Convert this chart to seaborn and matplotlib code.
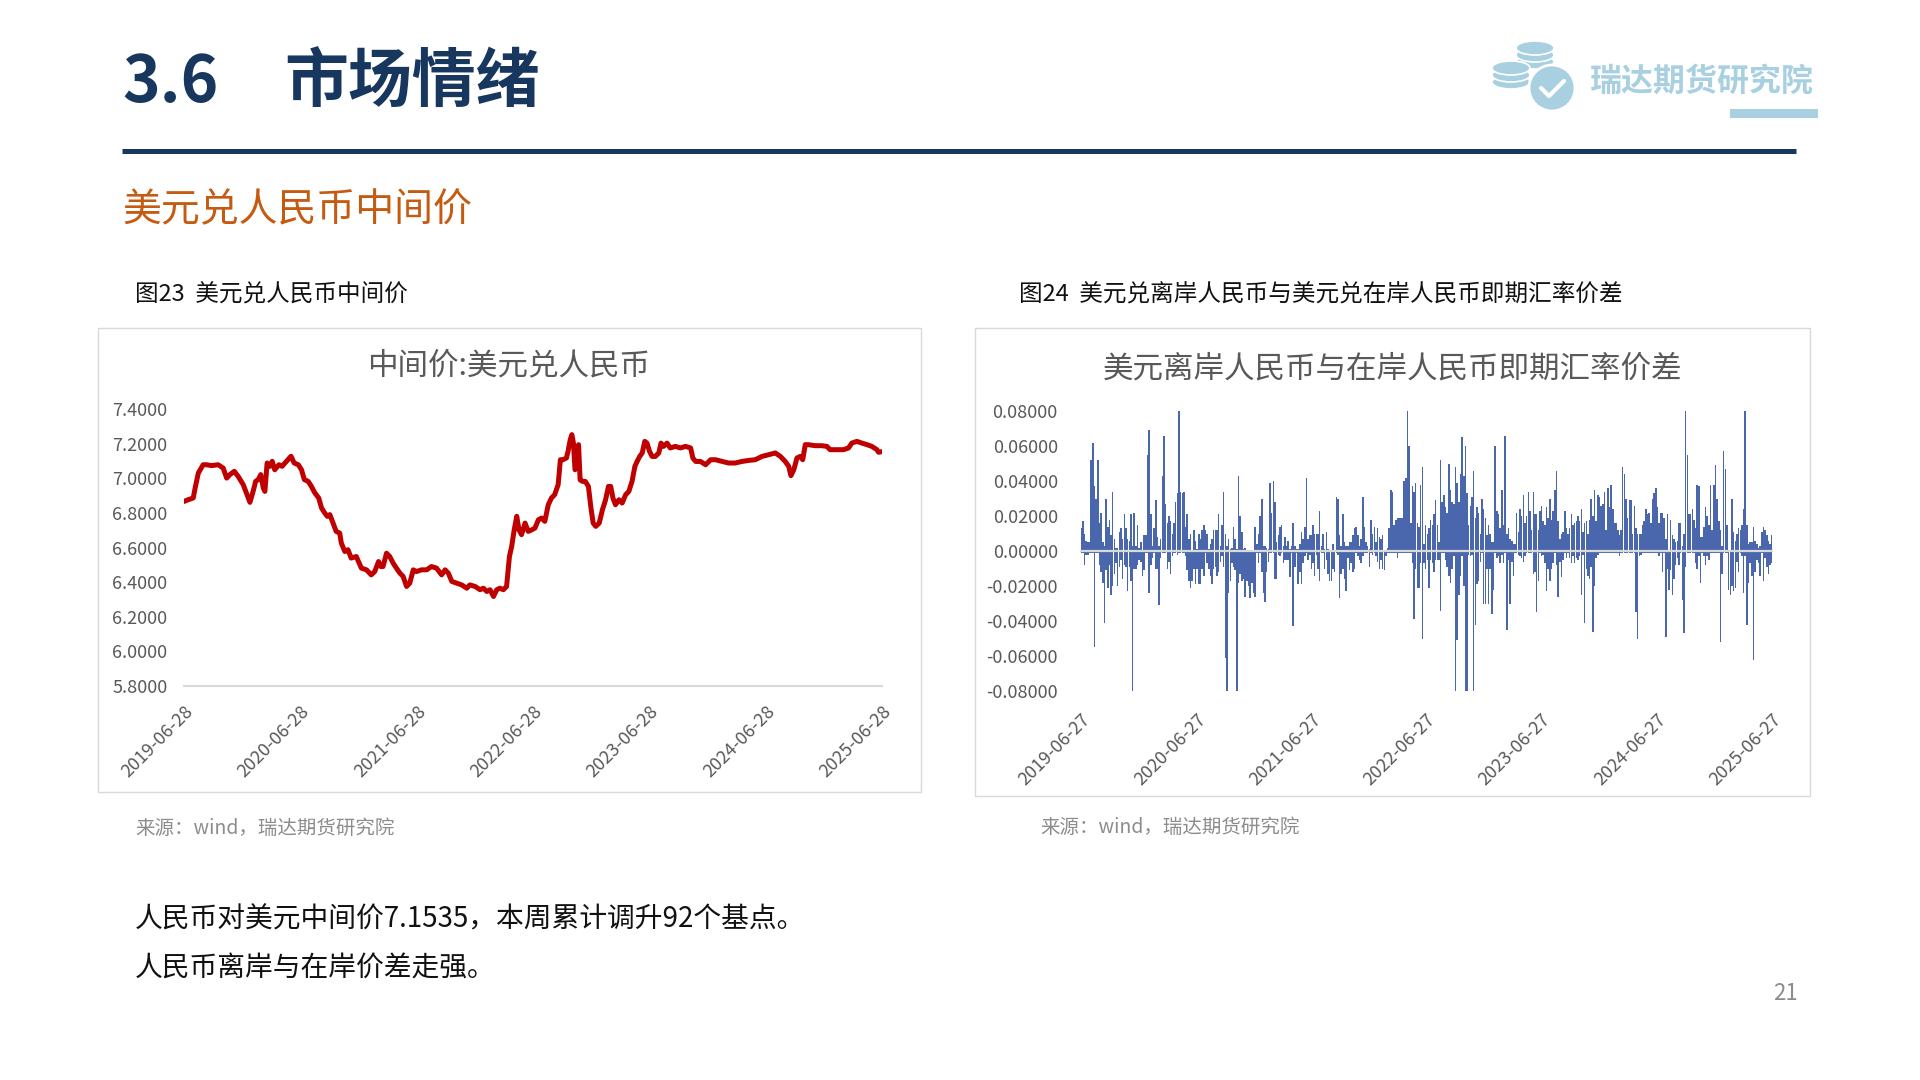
import pandas as pd
import matplotlib.pyplot as plt
from matplotlib.patches import Rectangle, Ellipse
from matplotlib.lines import Line2D
import seaborn as sns

# ---- 图23：中间价 美元兑人民币----
mid_dates = [
    '2019-06-28', '2019-07-11', '2019-07-27', '2019-08-03', '2019-08-12', '2019-08-27', '2019-09-07', '2019-09-22', '2019-10-13', '2019-10-29',
    '2019-11-09', '2019-11-19', '2019-12-03', '2019-12-15', '2019-12-31', '2020-01-10', '2020-01-21', '2020-01-31', '2020-02-08', '2020-02-16',
    '2020-02-24', '2020-03-03', '2020-03-08', '2020-03-15', '2020-03-24', '2020-03-31', '2020-04-08', '2020-04-21', '2020-05-01', '2020-05-15',
    '2020-05-29', '2020-06-08', '2020-06-21', '2020-07-01', '2020-07-10', '2020-07-22', '2020-08-01', '2020-08-12', '2020-08-24', '2020-09-02',
    '2020-09-12', '2020-09-20', '2020-09-28', '2020-10-08', '2020-10-18', '2020-10-29', '2020-11-03', '2020-11-14', '2020-11-24', '2020-12-04',
    '2020-12-20', '2021-01-05', '2021-01-21', '2021-02-05', '2021-02-16', '2021-02-28', '2021-03-07', '2021-03-14', '2021-03-25', '2021-04-04',
    '2021-04-15', '2021-04-25', '2021-05-06', '2021-05-16', '2021-05-27', '2021-06-06', '2021-06-17', '2021-06-27', '2021-07-13', '2021-07-29',
    '2021-08-13', '2021-08-29', '2021-09-14', '2021-09-25', '2021-10-05', '2021-10-16', '2021-10-31', '2021-11-16', '2021-12-02', '2021-12-12',
    '2021-12-28', '2022-01-13', '2022-01-23', '2022-02-03', '2022-02-13', '2022-02-24', '2022-03-06', '2022-03-16', '2022-03-27', '2022-04-06',
    '2022-04-15', '2022-04-22', '2022-04-30', '2022-05-08', '2022-05-15', '2022-05-23', '2022-06-03', '2022-06-13', '2022-06-24', '2022-07-04',
    '2022-07-15', '2022-07-25', '2022-08-04', '2022-08-15', '2022-08-25', '2022-09-04', '2022-09-15', '2022-09-22', '2022-09-30', '2022-10-11',
    '2022-10-16', '2022-10-23', '2022-10-28', '2022-11-02', '2022-11-07', '2022-11-13', '2022-11-18', '2022-11-23', '2022-11-30', '2022-12-09',
    '2022-12-19', '2022-12-27', '2023-01-03', '2023-01-11', '2023-01-22', '2023-02-01', '2023-02-11', '2023-02-20', '2023-02-27', '2023-03-06',
    '2023-03-14', '2023-03-25', '2023-04-04', '2023-04-15', '2023-04-25', '2023-05-05', '2023-05-14', '2023-05-21', '2023-05-29', '2023-06-06',
    '2023-06-14', '2023-06-21', '2023-06-29', '2023-07-07', '2023-07-17', '2023-07-28', '2023-08-04', '2023-08-12', '2023-08-23', '2023-09-02',
    '2023-09-18', '2023-10-04', '2023-10-20', '2023-11-05', '2023-11-12', '2023-11-21', '2023-12-06', '2023-12-22', '2024-01-07', '2024-01-22',
    '2024-02-12', '2024-03-03', '2024-03-24', '2024-04-14', '2024-05-05', '2024-05-26', '2024-06-16', '2024-07-07', '2024-07-28', '2024-08-13',
    '2024-08-28', '2024-09-08', '2024-09-15', '2024-09-24', '2024-10-04', '2024-10-14', '2024-10-22', '2024-10-30', '2024-11-09', '2024-11-30',
    '2024-12-21', '2025-01-06', '2025-01-16', '2025-02-06', '2025-02-27', '2025-03-15', '2025-03-25', '2025-04-10', '2025-04-26', '2025-05-12',
    '2025-05-27', '2025-06-12', '2025-06-17', '2025-06-27',
]
mid_values = [
    6.866, 6.876, 6.886, 6.953, 7.030, 7.078, 7.078, 7.073, 7.078, 7.059,
    7.001, 7.021, 7.040, 7.011, 6.963, 6.915, 6.861, 6.924, 6.982, 6.992,
    7.021, 6.944, 6.924, 7.088, 7.069, 7.098, 7.049, 7.078, 7.069, 7.098,
    7.127, 7.088, 7.078, 7.049, 6.992, 6.982, 6.953, 6.915, 6.886, 6.828,
    6.799, 6.780, 6.790, 6.741, 6.693, 6.683, 6.626, 6.577, 6.587, 6.539,
    6.548, 6.481, 6.471, 6.442, 6.461, 6.519, 6.490, 6.490, 6.567, 6.548,
    6.509, 6.481, 6.452, 6.433, 6.375, 6.394, 6.471, 6.461, 6.471, 6.471,
    6.490, 6.481, 6.442, 6.471, 6.452, 6.404, 6.394, 6.384, 6.365, 6.384,
    6.375, 6.356, 6.365, 6.346, 6.356, 6.317, 6.356, 6.365, 6.356, 6.375,
    6.548, 6.606, 6.702, 6.780, 6.702, 6.674, 6.741, 6.693, 6.702, 6.712,
    6.760, 6.770, 6.751, 6.847, 6.886, 6.905, 6.963, 7.107, 7.107, 7.117,
    7.155, 7.223, 7.252, 7.203, 7.049, 7.126, 7.194, 6.991, 6.982, 6.982,
    6.953, 6.828, 6.741, 6.722, 6.741, 6.818, 6.876, 6.953, 6.953, 6.886,
    6.847, 6.876, 6.857, 6.905, 6.924, 6.982, 7.069, 7.097, 7.126, 7.146,
    7.213, 7.203, 7.155, 7.126, 7.126, 7.146, 7.203, 7.184, 7.203, 7.175,
    7.184, 7.175, 7.184, 7.175, 7.117, 7.097, 7.097, 7.078, 7.107, 7.107,
    7.097, 7.088, 7.088, 7.097, 7.103, 7.107, 7.126, 7.136, 7.146, 7.126,
    7.097, 7.069, 7.015, 7.049, 7.117, 7.126, 7.107, 7.194, 7.194, 7.188,
    7.188, 7.184, 7.165, 7.165, 7.165, 7.175, 7.203, 7.213, 7.203, 7.194,
    7.184, 7.165, 7.150, 7.1535,
]
mid_yticks = [5.8, 6.0, 6.2, 6.4, 6.6, 6.8, 7.0, 7.2, 7.4]
mid_xticks = ['2019-06-28', '2020-06-28', '2021-06-28', '2022-06-28', '2023-06-28', '2024-06-28', '2025-06-28']

# ---- 图24：离岸-在岸即期汇率价差，每个时段的最高/最低值----
spread_start, spread_end = '2019-06-27', '2025-06-27'
spread_high = [
    0.013, 0.017, 0.010, 0.006, 0.005, 0.005, 0.052, 0.062, 0.037, 0.030,
    0.052, 0.016, 0.022, 0.005, 0.003, 0.030, 0.014, 0.018, 0.009, 0.034,
    0.007, 0.002, 0.002, 0.011, 0.013, 0.007, 0.021, 0.013, 0.007, 0.006,
    0.021, 0.003, 0.022, 0.003, 0.015, 0.002, 0.005, 0.000, 0.009, 0.009,
    0.055, 0.069, 0.021, 0.003, 0.013, 0.029, 0.008, 0.003, 0.007, 0.043,
    0.066, 0.027, 0.016, 0.020, 0.017, 0.010, 0.016, 0.028, 0.033, 0.080,
    0.034, 0.033, 0.034, 0.014, 0.021, 0.007, 0.010, 0.000, 0.012, 0.006,
    0.001, 0.010, 0.007, 0.012, 0.015, 0.012, 0.010, 0.001, 0.004, 0.007,
    0.012, 0.012, 0.012, 0.021, 0.003, 0.015, 0.034, 0.010, 0.003, 0.007,
    0.001, 0.002, 0.014, 0.007, 0.001, 0.043, 0.020, 0.011, 0.001, 0.002,
    0.000, 0.000, 0.000, 0.000, 0.000,
    0.014, 0.004, 0.010, 0.020, 0.030, 0.003, 0.003, 0.002, 0.001, 0.039,
    0.022, 0.040, 0.028, 0.005, 0.009, 0.014, 0.015, 0.003, 0.008, 0.003,
    0.006, 0.001, 0.003, 0.016, 0.003, 0.001, 0.001, 0.004, 0.011, 0.007,
    0.014, 0.042, 0.007, 0.009, 0.009, 0.015, 0.010, 0.010, 0.010, 0.023,
    0.003, 0.010, 0.001, 0.011, 0.001, 0.000, 0.000, 0.004, 0.000, 0.031,
    0.030, 0.009, 0.003, 0.021, 0.005, 0.003, 0.003, 0.005, 0.005, 0.009,
    0.013, 0.014, 0.009, 0.003, 0.007, 0.031, 0.014, 0.005, 0.003, 0.001,
    0.018, 0.010, 0.014, 0.005, 0.013, 0.008, 0.007, 0.009, 0.000, 0.000,
    0.002, 0.013, 0.035, 0.034, 0.015, 0.018, 0.019, 0.019, 0.019, 0.019,
    0.040, 0.042, 0.080, 0.060, 0.016, 0.037, 0.034, 0.039, 0.016, 0.014,
    0.038, 0.048, 0.004, 0.015, 0.010, 0.013, 0.018,
    0.015, 0.021, 0.029, 0.015, 0.005, 0.052, 0.028, 0.032, 0.025, 0.022,
    0.050, 0.035, 0.028, 0.027, 0.048, 0.039, 0.028, 0.044, 0.065, 0.043,
    0.060, 0.033, 0.015, 0.026, 0.031, 0.046, 0.019, 0.025, 0.022, 0.010,
    0.030, 0.024, 0.019, 0.009, 0.015, 0.010, 0.005, 0.005, 0.060, 0.023,
    0.021, 0.013, 0.035, 0.015, 0.066, 0.010, 0.013, 0.007, 0.006, 0.004,
    0.004, 0.022, 0.011, 0.024, 0.020, 0.032, 0.016, 0.020, 0.034, 0.023,
    0.012, 0.034, 0.021, 0.021, 0.012, 0.023, 0.026, 0.017, 0.015, 0.025,
    0.019, 0.030, 0.018, 0.023, 0.035, 0.046, 0.017, 0.007, 0.010, 0.011,
    0.023, 0.013, 0.010, 0.013, 0.021, 0.015, 0.016, 0.017, 0.020, 0.017,
    0.024, 0.011, 0.016, 0.017, 0.010, 0.018, 0.030, 0.020, 0.035, 0.017,
    0.032, 0.031, 0.026, 0.027, 0.034,
    0.012, 0.036, 0.025, 0.038, 0.024, 0.016, 0.016, 0.012, 0.009, 0.012,
    0.048, 0.044, 0.030, 0.019, 0.029, 0.029, 0.010, 0.026, 0.013, 0.010,
    0.010, 0.010, 0.015, 0.017, 0.024, 0.021, 0.022, 0.016, 0.030, 0.033,
    0.036, 0.025, 0.016, 0.022, 0.022, 0.019, 0.007, 0.021, 0.000, 0.018,
    0.009, 0.007, 0.005, 0.006, 0.016, 0.016, 0.003, 0.010, 0.080, 0.055,
    0.021, 0.021, 0.024, 0.018, 0.013, 0.038, 0.037, 0.008, 0.008, 0.014,
    0.025, 0.020, 0.015, 0.038, 0.012, 0.038, 0.049, 0.030, 0.017, 0.012,
    0.003, 0.057, 0.047, 0.015, 0.000, 0.000, 0.030, 0.011, 0.006, 0.010,
    0.013, 0.012, 0.015, 0.024, 0.080, 0.015, 0.004, 0.005, 0.005, 0.014,
    0.006, 0.004, 0.002, 0.003, 0.011, 0.014, 0.012, 0.009, 0.006, 0.004,
    0.009,
]
spread_low = [
    -0.001, -0.001, -0.008, -0.002, -0.002, -0.001, -0.001, -0.001, -0.055, -0.001,
    -0.001, -0.008, -0.012, -0.018, -0.041, -0.011, -0.021, -0.008, -0.025, -0.020,
    -0.013, -0.007, -0.020, -0.009, -0.005, -0.016, -0.008, -0.009, -0.023, -0.009,
    -0.017, -0.080, -0.010, -0.010, -0.008, -0.005, -0.006, -0.014, -0.011, -0.001,
    -0.001, -0.024, -0.008, -0.004, -0.001, -0.010, -0.010, -0.031, -0.004, -0.001,
    -0.001, -0.001, -0.010, -0.006, -0.013, -0.003, -0.001, -0.001, -0.002, -0.001,
    -0.001, -0.001, -0.001, -0.003, -0.011, -0.017, -0.021, -0.017, -0.010, -0.019,
    -0.010, -0.019, -0.019, -0.010, -0.014, -0.001, -0.007, -0.010, -0.014, -0.019,
    -0.010, -0.009, -0.014, -0.012, -0.006, -0.003, -0.009, -0.061, -0.080, -0.024,
    -0.017, -0.007, -0.009, -0.011, -0.080, -0.018, -0.013, -0.017, -0.016, -0.026,
    -0.017, -0.020, -0.027, -0.018, -0.024,
    -0.026, -0.001, -0.007, -0.001, -0.012, -0.024, -0.029, -0.012, -0.006, -0.001,
    -0.001, -0.001, -0.016, -0.016, -0.002, -0.003, -0.001, -0.007, -0.005, -0.005,
    -0.005, -0.015, -0.001, -0.043, -0.009, -0.001, -0.019, -0.012, -0.019, -0.007,
    -0.003, -0.001, -0.005, -0.002, -0.010, -0.007, -0.014, -0.002, -0.010, -0.017,
    -0.001, -0.001, -0.010, -0.005, -0.013, -0.017, -0.017, -0.010, -0.012, -0.001,
    -0.002, -0.027, -0.013, -0.010, -0.016, -0.023, -0.004, -0.011, -0.007, -0.012,
    -0.010, -0.001, -0.003, -0.005, -0.007, -0.003, -0.001, -0.001, -0.001, -0.009,
    -0.001, -0.002, -0.001, -0.003, -0.006, -0.010, -0.005, -0.010, -0.011, -0.003,
    -0.001, -0.001, -0.001, -0.001, -0.001, -0.001, -0.004, -0.001, -0.001, -0.001,
    -0.001, -0.001, -0.001, -0.001, -0.001, -0.007, -0.039, -0.010, -0.021, -0.021,
    -0.007, -0.050, -0.007, -0.010, -0.005, -0.021, -0.005,
    -0.007, -0.012, -0.005, -0.005, -0.005, -0.034, -0.001, -0.001, -0.005, -0.009,
    -0.014, -0.018, -0.010, -0.003, -0.080, -0.051, -0.025, -0.014, -0.003, -0.020,
    -0.080, -0.080, -0.002, -0.003, -0.002, -0.080, -0.042, -0.019, -0.017, -0.006,
    -0.001, -0.030, -0.030, -0.010, -0.030, -0.010, -0.036, -0.022, -0.001, -0.004,
    -0.003, -0.007, -0.002, -0.007, -0.001, -0.045, -0.005, -0.030, -0.006, -0.014,
    -0.001, -0.001, -0.002, -0.003, -0.004, -0.006, -0.003, -0.001, -0.001, -0.001,
    -0.001, -0.013, -0.012, -0.035, -0.017, -0.001, -0.003, -0.002, -0.007, -0.023,
    -0.010, -0.017, -0.010, -0.007, -0.001, -0.008, -0.026, -0.006, -0.015, -0.005,
    -0.001, -0.004, -0.001, -0.004, -0.007, -0.003, -0.007, -0.004, -0.005, -0.003,
    -0.025, -0.002, -0.041, -0.010, -0.014, -0.016, -0.009, -0.046, -0.020, -0.004,
    -0.002, -0.001, -0.001, -0.001, -0.001,
    -0.001, -0.001, -0.001, -0.001, -0.001, -0.001, -0.001, -0.001, -0.003, -0.001,
    -0.001, -0.001, -0.001, -0.001, -0.001, -0.001, -0.001, -0.001, -0.035, -0.050,
    -0.003, -0.002, -0.001, -0.001, -0.001, -0.001, -0.001, -0.001, -0.001, -0.001,
    -0.001, -0.001, -0.003, -0.001, -0.012, -0.001, -0.049, -0.010, -0.022, -0.011,
    -0.025, -0.016, -0.008, -0.004, -0.008, -0.001, -0.028, -0.047, -0.009, -0.001,
    -0.001, -0.001, -0.001, -0.001, -0.007, -0.010, -0.003, -0.018, -0.001, -0.003,
    -0.008, -0.003, -0.005, -0.001, -0.001, -0.001, -0.001, -0.001, -0.001, -0.052,
    -0.013, -0.001, -0.001, -0.001, -0.022, -0.025, -0.020, -0.023, -0.021, -0.006,
    -0.012, -0.001, -0.003, -0.024, -0.003, -0.042, -0.018, -0.007, -0.014, -0.062,
    -0.012, -0.005, -0.007, -0.014, -0.001, -0.017, -0.004, -0.009, -0.013, -0.008,
    -0.007,
]
spread_yticks = [-0.08, -0.06, -0.04, -0.02, 0.0, 0.02, 0.04, 0.06, 0.08]
spread_xticks = ['2019-06-27', '2020-06-27', '2021-06-27', '2022-06-27', '2023-06-27', '2024-06-27', '2025-06-27']

NAVY = '#17375E'
ORANGE = '#C55A11'
LOGO = '#A8D0E1'
GRAY_TXT = '#595959'
RED = '#C00000'
BLUE = '#4A67AD'

sns.set_theme(style="white")
plt.rcParams['font.family'] = ['Noto Sans CJK SC', 'DejaVu Sans']
plt.rcParams['axes.unicode_minus'] = False

W, H = 1920, 1080
fig = plt.figure(figsize=(19.2, 10.8), dpi=100)
fig.patch.set_facecolor('white')


def fx(px):
    return px / W


def fy(py):
    return 1 - py / H


# 页眉
fig.text(fx(122), fy(83), '3.6', fontsize=46, fontweight='bold', color=NAVY, va='center')
fig.text(fx(284), fy(83), '市场情绪', fontsize=46, fontweight='bold', color=NAVY, va='center')
fig.add_artist(Line2D([fx(122), fx(1796)], [fy(151), fy(151)], transform=fig.transFigure,
                      color=NAVY, lw=3.6, solid_capstyle='butt'))
fig.text(fx(122), fy(210), '美元兑人民币中间价', fontsize=28, color=ORANGE, va='center')

# logo（硬币 + 文字）
for cx, cy in [(1535, 62), (1535, 55), (1535, 48), (1511, 82), (1511, 75), (1511, 68)]:
    fig.add_artist(Ellipse((fx(cx), fy(cy)), 38 / W, 14 / H, transform=fig.transFigure,
                           facecolor=LOGO, edgecolor='white', lw=1.2))
fig.add_artist(Ellipse((fx(1552), fy(88)), 46 / W, 46 / H, transform=fig.transFigure,
                       facecolor=LOGO, edgecolor='white', lw=2))
fig.add_artist(Line2D([fx(1541), fx(1549), fx(1564)], [fy(88), fy(96), fy(81)],
                      transform=fig.transFigure, color='white', lw=3))
fig.text(fx(1590), fy(82), '瑞达期货研究院', fontsize=23, fontweight='bold', color=LOGO, va='center')
fig.add_artist(Rectangle((fx(1730), fy(118)), 88 / W, 9 / H, transform=fig.transFigure,
                         color=LOGO, lw=0))

# 图框与标题
fig.add_artist(Rectangle((fx(98), fy(792)), 823 / W, 464 / H, transform=fig.transFigure,
                         fill=False, edgecolor='#D9D9D9', lw=1))
fig.add_artist(Rectangle((fx(975), fy(796)), 835 / W, 468 / H, transform=fig.transFigure,
                         fill=False, edgecolor='#D9D9D9', lw=1))
fig.text(fx(135), fy(295), '图23  美元兑人民币中间价', fontsize=17, color='#111111', va='center')
fig.text(fx(1019), fy(295), '图24  美元兑离岸人民币与美元兑在岸人民币即期汇率价差', fontsize=17,
         color='#111111', va='center')
fig.text(fx(509), fy(366), '中间价:美元兑人民币', fontsize=22, color=GRAY_TXT, ha='center', va='center')
fig.text(fx(1393), fy(369), '美元离岸人民币与在岸人民币即期汇率价差', fontsize=22, color=GRAY_TXT,
         ha='center', va='center')

# 图23 折线
ax1 = fig.add_axes([fx(184), fy(686), 698 / W, 277 / H])
sns.lineplot(x=pd.to_datetime(mid_dates), y=mid_values, ax=ax1, color=RED, linewidth=3.6)
ax1.set_ylim(5.8, 7.4)
ax1.set_yticks(mid_yticks)
ax1.set_yticklabels([f'{v:.4f}' for v in mid_yticks])
ax1.set_xlim(pd.Timestamp(mid_xticks[0]), pd.Timestamp(mid_xticks[-1]))
ax1.set_xticks(pd.to_datetime(mid_xticks))
ax1.set_xticklabels(mid_xticks, rotation=45, ha='right', rotation_mode='anchor')
ax1.set_xlabel('')
ax1.set_ylabel('')
ax1.set_facecolor('none')
for s in ['left', 'top', 'right']:
    ax1.spines[s].set_visible(False)
ax1.spines['bottom'].set_color('#D9D9D9')
ax1.spines['bottom'].set_linewidth(1.5)
ax1.tick_params(axis='both', length=0, labelsize=13, labelcolor=GRAY_TXT)
ax1.tick_params(axis='y', pad=12)
ax1.tick_params(axis='x', pad=12)

# 图24 柱状
ax2 = fig.add_axes([fx(1080), fy(691), 693 / W, 280 / H])
hi_dates = pd.date_range(spread_start, spread_end, periods=len(spread_high))
lo_dates = pd.date_range(spread_start, spread_end, periods=len(spread_low))
ax2.bar(hi_dates, spread_high, width=4.8, color=BLUE, linewidth=0)
ax2.bar(lo_dates, spread_low, width=4.8, color=BLUE, linewidth=0)
ax2.axhline(0, color='#D9D9D9', lw=1.6, zorder=3)
ax2.set_ylim(-0.08, 0.08)
ax2.set_yticks(spread_yticks)
ax2.set_yticklabels([f'{v:.5f}' for v in spread_yticks])
ax2.set_xlim(pd.Timestamp(spread_start) - pd.Timedelta(days=4), pd.Timestamp(spread_end) + pd.Timedelta(days=4))
ax2.set_xticks(pd.to_datetime(spread_xticks))
ax2.set_xticklabels(spread_xticks, rotation=45, ha='right', rotation_mode='anchor')
ax2.set_facecolor('none')
for s in ax2.spines.values():
    s.set_visible(False)
ax2.tick_params(axis='both', length=0, labelsize=13, labelcolor=GRAY_TXT)
ax2.tick_params(axis='y', pad=16)
ax2.tick_params(axis='x', pad=14)

# 来源与正文
fig.text(fx(135), fy(828), '来源：wind，瑞达期货研究院', fontsize=14, color='#8C8C8C', va='center')
fig.text(fx(1040), fy(827), '来源：wind，瑞达期货研究院', fontsize=14, color='#8C8C8C', va='center')
fig.text(fx(135), fy(919), '人民币对美元中间价7.1535，本周累计调升92个基点。', fontsize=20,
         color='#111111', va='center')
fig.text(fx(135), fy(969), '人民币离岸与在岸价差走强。', fontsize=20, color='#111111', va='center')
fig.text(fx(1785), fy(993), '21', fontsize=16, color='#8C8C8C', ha='center', va='center')

fig.savefig('out.png', dpi=100, facecolor='white')
